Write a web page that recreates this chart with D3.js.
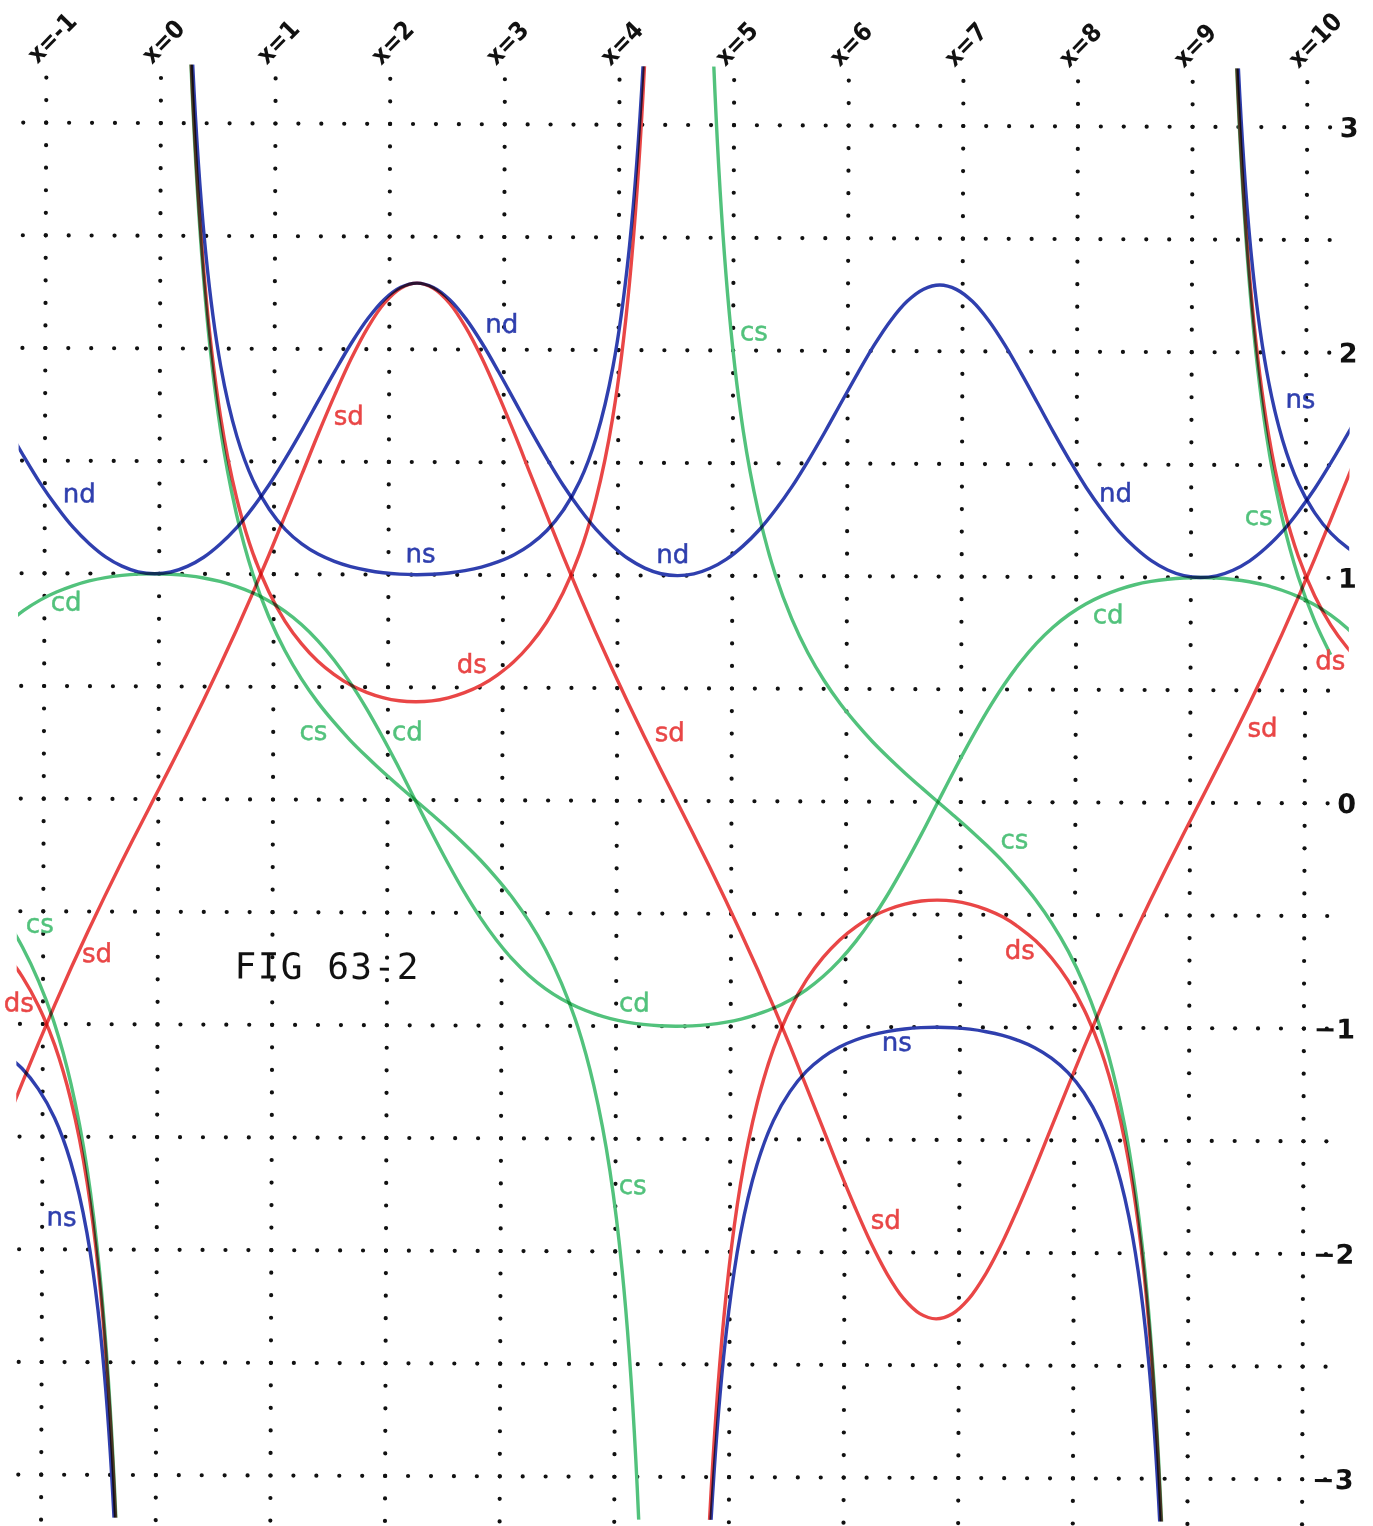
<!DOCTYPE html>
<html><head><meta charset="utf-8">
<script src="https://cdn.jsdelivr.net/npm/d3@7"></script>
<style>body{margin:0;background:#fff}svg{display:block}</style>
</head><body>
<svg id="chart" width="1373" height="1526"></svg>
<script>
// sample positions along x
const xs = [-1.323,-1.180,-1.038,-0.895,-0.753,-0.610,-0.468,-0.325,-0.183,
 -0.040,0.103,0.245,0.388,0.530,0.673,0.815,0.958,1.100,1.243,1.385,1.528,1.670,1.813,1.955,2.098,2.240,
 2.383,2.526,2.668,2.811,2.953,3.096,3.238,3.381,3.523,3.666,3.808,3.951,4.093,4.236,4.378,4.521,
 4.664,4.806,4.949,5.091,5.234,5.376,5.519,5.661,5.804,5.946,6.089,6.231,6.374,6.516,6.659,6.801,
 6.944,7.087,7.229,7.372,7.514,7.657,7.799,7.942,8.084,8.227,8.369,8.512,8.654,8.797,8.939,9.082,
 9.224,9.367,9.510,9.652,9.795,9.937,10.080,10.222,10.365,10.507];

const sd = [-1.445,-1.264,-1.086,-0.913,-0.748,-0.589,-0.436,-0.287,-0.143,
 0,0.143,0.287,0.436,0.589,0.748,0.913,1.086,1.264,1.445,1.626,1.799,1.959,2.097,2.204,2.271,2.294,
 2.271,2.204,2.097,1.959,1.799,1.626,1.445,1.264,1.086,0.913,0.748,0.589,0.436,0.287,0.143,0,
 -0.143,-0.287,-0.436,-0.589,-0.748,-0.913,-1.086,-1.264,-1.445,-1.626,-1.799,-1.959,-2.097,-2.204,-2.271,-2.294,
 -2.271,-2.204,-2.097,-1.959,-1.799,-1.626,-1.445,-1.264,-1.086,-0.913,-0.748,-0.589,-0.436,-0.287,-0.143,0,
 0.143,0.287,0.436,0.589,0.748,0.913,1.086,1.264,1.445,1.626];

const nd = [1.641,1.515,1.398,1.295,1.205,1.132,1.074,1.033,1.008,
 1,1.008,1.033,1.074,1.132,1.205,1.295,1.398,1.515,1.641,1.772,1.903,2.027,2.136,2.221,2.275,2.294,
 2.275,2.221,2.136,2.027,1.903,1.772,1.641,1.515,1.398,1.295,1.205,1.132,1.074,1.033,1.008,1,
 1.008,1.033,1.074,1.132,1.205,1.295,1.398,1.515,1.641,1.772,1.903,2.027,2.136,2.221,2.275,2.294,
 2.275,2.221,2.136,2.027,1.903,1.772,1.641,1.515,1.398,1.295,1.205,1.132,1.074,1.033,1.008,1,
 1.008,1.033,1.074,1.132,1.205,1.295,1.398,1.515,1.641,1.772];

const cd = [0.777,0.835,0.881,0.917,0.945,0.967,0.982,0.992,0.998,
 1,0.998,0.992,0.982,0.967,0.945,0.917,0.881,0.835,0.777,0.706,0.620,0.520,0.405,0.278,0.142,0,
 -0.142,-0.278,-0.405,-0.520,-0.620,-0.706,-0.777,-0.835,-0.881,-0.917,-0.945,-0.967,-0.982,-0.992,-0.998,-1,
 -0.998,-0.992,-0.982,-0.967,-0.945,-0.917,-0.881,-0.835,-0.777,-0.706,-0.620,-0.520,-0.405,-0.278,-0.142,0,
 0.142,0.278,0.405,0.520,0.620,0.706,0.777,0.835,0.881,0.917,0.945,0.967,0.982,0.992,0.998,1,
 0.998,0.992,0.982,0.967,0.945,0.917,0.881,0.835,0.777,0.706];

const ds = [-0.692,-0.791,-0.921,-1.095,-1.338,-1.699,-2.296,-3.479,-7.001,
 null,7.001,3.479,2.296,1.699,1.338,1.095,0.921,0.791,0.692,0.615,0.556,0.510,0.477,0.454,0.440,0.436,
 0.440,0.454,0.477,0.510,0.556,0.615,0.692,0.791,0.921,1.095,1.338,1.699,2.296,3.479,7.001,null,
 -7.001,-3.479,-2.296,-1.699,-1.338,-1.095,-0.921,-0.791,-0.692,-0.615,-0.556,-0.510,-0.477,-0.454,-0.440,-0.436,
 -0.440,-0.454,-0.477,-0.510,-0.556,-0.615,-0.692,-0.791,-0.921,-1.095,-1.338,-1.699,-2.296,-3.479,-7.001,null,
 7.001,3.479,2.296,1.699,1.338,1.095,0.921,0.791,0.692,0.615];

const ns = [-1.135,-1.198,-1.288,-1.417,-1.612,-1.923,-2.466,-3.594,-7.059,
 null,7.059,3.594,2.466,1.923,1.612,1.417,1.288,1.198,1.135,1.090,1.058,1.035,1.019,1.008,1.002,1.000,
 1.002,1.008,1.019,1.035,1.058,1.090,1.135,1.198,1.288,1.417,1.612,1.923,2.466,3.594,7.059,null,
 -7.059,-3.594,-2.466,-1.923,-1.612,-1.417,-1.288,-1.198,-1.135,-1.090,-1.058,-1.035,-1.019,-1.008,-1.002,-1.000,
 -1.002,-1.008,-1.019,-1.035,-1.058,-1.090,-1.135,-1.198,-1.288,-1.417,-1.612,-1.923,-2.466,-3.594,-7.059,null,
 7.059,3.594,2.466,1.923,1.612,1.417,1.288,1.198,1.135,1.090];

const cs = [-0.537,-0.660,-0.811,-1.004,-1.265,-1.642,-2.254,-3.452,-6.988,
 null,6.988,3.452,2.254,1.642,1.265,1.004,0.811,0.660,0.537,0.434,0.345,0.265,0.193,0.126,0.062,0,
 -0.062,-0.126,-0.193,-0.265,-0.345,-0.434,-0.537,-0.660,-0.811,-1.004,-1.265,-1.642,-2.254,-3.452,-6.988,null,
 6.988,3.452,2.254,1.642,1.265,1.004,0.811,0.660,0.537,0.434,0.345,0.265,0.193,0.126,0.062,0,
 -0.062,-0.126,-0.193,-0.265,-0.345,-0.434,-0.537,-0.660,-0.811,-1.004,-1.265,-1.642,-2.254,-3.452,-6.988,null,
 6.988,3.452,2.254,1.642,1.265,1.004,0.811,0.660,null,null];

const xGridValues = [-1,0,1,2,3,4,5,6,7,8,9,10];
const xTickLabels = ["x=-1","x=0","x=1","x=2","x=3","x=4","x=5","x=6","x=7","x=8","x=9","x=10"];
const yGridValues = [-3,-2.5,-2,-1.5,-1,-0.5,0,0.5,1,1.5,2,2.5,3];
const yTickValues = [3,2,1,0,-1,-2,-3];
const yTickLabels = ["3","2","1","0","\u22121","\u22122","\u22123"];

const labelNames = ["nd","sd","nd","ns","nd","cs","ns","nd","cs","cd","cd","ds","ds","cs","cd","sd","sd","cs","cs","sd","ds","ds","cd","ns","cs","sd","ns"];
const labelX = [2.98,1.65,-0.70,2.28,4.48,5.18,9.95,8.34,9.59,-0.81,8.28,2.73,10.22,1.35,2.17,4.46,9.63,7.47,-1.03,-0.53,-1.21,7.52,4.16,6.45,4.15,6.36,-0.83];
const labelY = [2.11,1.70,1.35,1.09,1.09,2.08,1.79,1.37,1.27,0.87,0.83,0.60,0.63,0.30,0.30,0.30,0.33,-0.17,-0.56,-0.69,-0.91,-0.66,-0.90,-1.07,-1.71,-1.86,-1.86];

const figTitle = "FIG 63-2";

// ---------- drawing ----------
const svg = d3.select("#chart");
svg.append("rect").attr("width",1373).attr("height",1526).attr("fill","#fff");

const x = d3.scaleLinear().domain([-1,10]).range([43.7,1304.7]);
const y = d3.scaleLinear().domain([-3,3]).range([1477,125]);

const colors = {sd:"#e94646", ds:"#e94646", nd:"#2f3fae", ns:"#2f3fae", cd:"#52c27c", cs:"#52c27c"};
const series = {sd, nd, cd, ds, ns, cs};

// whole sheet sits very slightly rotated, as on the scanned page
const root = svg.append("g").attr("transform","rotate(0.21,686,800)");

// dotted grid
const gGrid = root.append("g");
const vDots = [];
xGridValues.forEach(v => d3.range(-32,33).forEach(k => vDots.push([v, k/10])));
const hDots = [];
yGridValues.forEach(v => d3.range(-6,52).forEach(k => hDots.push([k/5, v])));
gGrid.selectAll("circle.v").data(vDots).join("circle").attr("class","v")
  .attr("cx",d=>x(d[0])).attr("cy",d=>y(d[1])).attr("r",2.1).attr("fill","#111");
gGrid.selectAll("circle.h").data(hDots).join("circle").attr("class","h")
  .attr("cx",d=>x(d[0])).attr("cy",d=>y(d[1])).attr("r",2.1).attr("fill","#111");

// clip
root.append("clipPath").attr("id","plotclip").append("rect")
  .attr("x",x(-1.23)).attr("y",y(3.26))
  .attr("width",x(10.38)-x(-1.23)).attr("height",y(-3.19)-y(3.26));

const line = d3.line()
  .defined(d => d[1] !== null)
  .x(d => x(d[0])).y(d => y(d[1]))
  .curve(d3.curveCatmullRom.alpha(0.5));

const gLines = root.append("g").attr("clip-path","url(#plotclip)");
Object.keys(series).forEach(name => {
  const pts = xs.map((xv,i) => [xv, series[name][i]]);
  gLines.append("path").datum(pts)
    .attr("d", line)
    .attr("fill","none")
    .attr("stroke", colors[name])
    .attr("stroke-width", 3.4)
    .attr("stroke-linejoin","round")
    .style("mix-blend-mode","multiply");
});

// curve labels
root.append("g").selectAll("text").data(labelNames).join("text")
  .attr("x",(d,i)=>x(labelX[i])).attr("y",(d,i)=>y(labelY[i]))
  .attr("dy","0.3em")
  .attr("text-anchor","middle")
  .attr("font-family","DejaVu Sans, sans-serif")
  .attr("font-size",26)
  .attr("fill",d=>colors[d])
  .attr("stroke",d=>colors[d]).attr("stroke-width",0.5)
  .text(d=>d);

// top x labels
root.append("g").selectAll("text").data(xGridValues).join("text")
  .attr("transform",(d)=>`translate(${x(d)-9},67) rotate(-46)`)
  .attr("font-family","DejaVu Sans Condensed, DejaVu Sans, sans-serif")
  .attr("font-weight","bold")
  .attr("font-size",25)
  .attr("fill","#111")
  .text((d,i)=>xTickLabels[i]);

// right y labels
root.append("g").selectAll("text").data(yTickValues).join("text")
  .attr("x",1356).attr("y",d=>y(d)).attr("dy","0.36em")
  .attr("text-anchor","end")
  .attr("font-family","DejaVu Sans, sans-serif")
  .attr("font-weight","bold")
  .attr("font-size",27)
  .attr("fill","#111")
  .text((d,i)=>yTickLabels[i]);

// figure caption
root.append("text")
  .attr("x",x(0.67)).attr("y",y(-0.795))
  .attr("font-family","DejaVu Sans Mono, monospace")
  .attr("font-size",36)
  .attr("letter-spacing",1.5)
  .attr("fill","#111")
  .text(figTitle);
</script>
</body></html>
